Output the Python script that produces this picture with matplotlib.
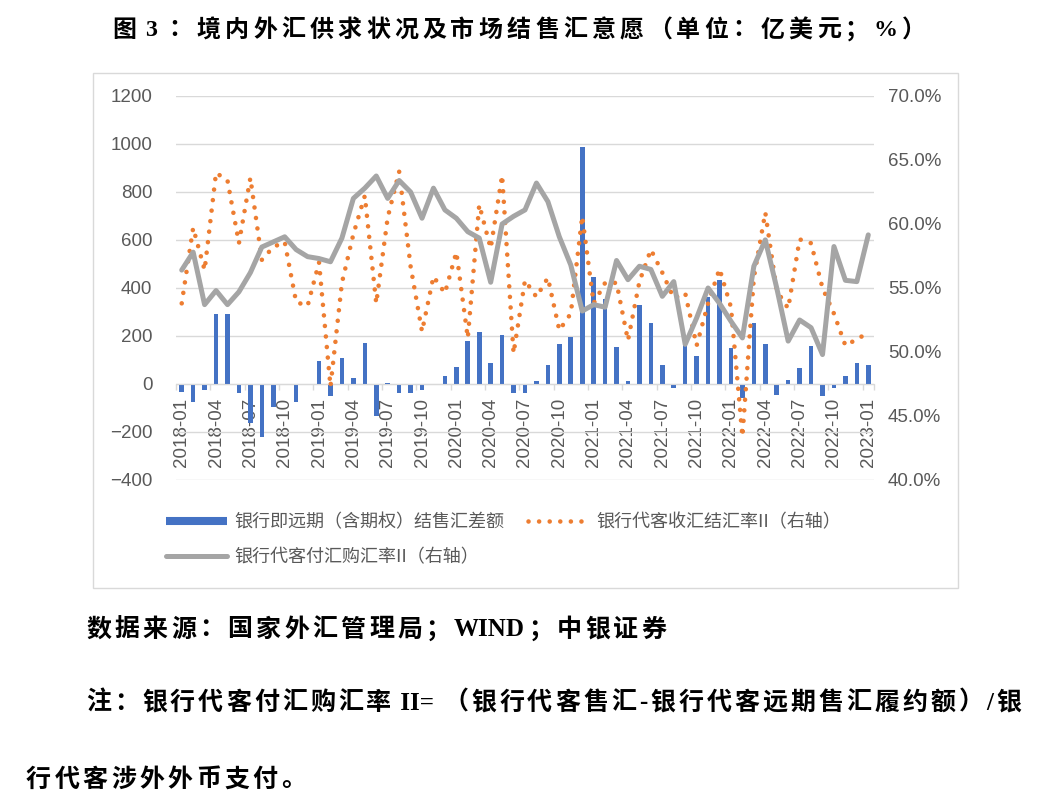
import matplotlib
matplotlib.use('Agg')
import matplotlib.pyplot as plt
import numpy as np
import pandas as pd
from matplotlib.lines import Line2D
from matplotlib.patches import Rectangle
from matplotlib.font_manager import FontProperties

# monthly categories 2018-01 .. 2023-01
months = list(pd.period_range('2018-01', '2023-01', freq='M').strftime('%Y-%m'))

# 银行即远期（含期权）结售汇差额, 亿美元
net_fx = [-32, -76, -24, 290, 290, -39, -164, -219, -94, 0, -76, 0,
          97, -50, 110, 24, 172, -133, 6, -39, -37, -25, 0, 35,
          72, 180, 215, 86, 204, -37, -39, 12, 78, 167, 197, 986,
          447, 353, 153, 12, 329, 253, 78, -18, 162, 117, 362, 433,
          149, -60, 253, 167, -46, 17, 65, 160, -50, -15, 33, 86, 79]

# 银行代客收汇结汇率II, %
settle_rate = [53.8, 59.7, 56.4, 64.0, 63.4, 58.5, 63.6, 57.2, 58.2, 58.6, 53.9, 53.6,
               57.0, 47.3, 55.4, 59.2, 62.2, 53.8, 60.5, 64.1, 56.7, 51.6, 55.9, 54.6,
               57.8, 51.1, 61.5, 58.1, 63.8, 49.9, 55.6, 54.3, 55.8, 51.7, 53.0, 60.6,
               53.8, 55.4, 55.4, 50.9, 55.5, 58.0, 56.2, 54.2, 54.6, 50.5, 53.8, 56.5,
               53.5, 43.4, 55.8, 60.9, 54.8, 53.4, 58.8, 58.5, 55.0, 53.0, 50.5, 51.0, 51.5]

# 银行代客付汇购汇率II, %
purchase_rate = [56.4, 57.8, 53.7, 54.8, 53.7, 54.7, 56.2, 58.2, 58.6, 59.0, 58.0, 57.45,
                 57.3, 57.05, 58.9, 62.0, 62.8, 63.75, 62.0, 63.4, 62.5, 60.45, 62.8, 61.1,
                 60.45, 59.4, 58.9, 55.45, 60.0, 60.6, 61.1, 63.2, 61.75, 59.0, 56.8, 53.2,
                 53.7, 53.5, 57.15, 55.65, 56.7, 56.45, 54.35, 55.5, 50.6, 52.66, 55.0, 53.8,
                 52.4, 51.1, 56.7, 58.76, 55.0, 50.85, 52.5, 51.9, 49.8, 58.24, 55.6, 55.5, 59.15]

labels = ['银行即远期（含期权）结售汇差额', '银行代客付汇购汇率II（右轴）', '银行代客收汇结汇率II（右轴）']
title = '图 3：境内外汇供求状况及市场结售汇意愿（单位：亿美元；%）'
source = '数据来源：国家外汇管理局；WIND；中银证券'
note1 = '注：银行代客付汇购汇率 II=（银行代客售汇-银行代客远期售汇履约额）/银'
note2 = '行代客涉外外币支付。'

W, H = 1047, 810
fig = plt.figure(figsize=(W / 100, H / 100), dpi=100)
fig.patch.set_facecolor('white')

BLUE, ORANGE, GREY, TXT, GRID = '#4472C4', '#ED7D31', '#A5A5A5', '#595959', '#D9D9D9'
NUMFONT = 'Liberation Sans'
DOTS = (0, (0.01, 2.3))

ax = fig.add_axes([176 / W, 1 - 480 / H, (874 - 176) / W, (480 - 96) / H])
x = np.arange(len(months))
ax.bar(x, net_fx, width=0.4, color=BLUE, zorder=2)
ax.set_xlim(-0.5, len(months) - 0.5)
ax.set_ylim(-400, 1200)
ax.set_yticks(range(-400, 1201, 200))
ax.yaxis.grid(True, color=GRID, lw=1)
ax.set_axisbelow(True)
for s in ['top', 'right', 'left']:
    ax.spines[s].set_visible(False)
ax.spines['bottom'].set_position(('data', 0))
ax.spines['bottom'].set_color(GRID)
ax.set_xticks(x[::3])
ax.set_xticklabels(months[::3], rotation=90, va='top', ha='center')
ax.set_xticks(list(np.arange(-0.5, 60, 3)) + [60.5], minor=True)
ax.tick_params(axis='x', which='major', length=0, pad=10, labelsize=13.5, labelcolor=TXT)
ax.tick_params(axis='x', which='minor', length=4, color=GRID, width=1)
ax.tick_params(axis='y', length=0, pad=17, labelsize=13.5, labelcolor=TXT)
for t in ax.get_xticklabels() + ax.get_yticklabels():
    t.set_family(NUMFONT)

ax2 = ax.twinx()
ax2.set_ylim(40, 70)
ax2.set_yticks(range(40, 71, 5))
ax2.set_yticklabels([f'{v:.1f}%' for v in range(40, 71, 5)])
for s in ax2.spines.values():
    s.set_visible(False)
ax2.tick_params(axis='y', length=0, pad=10, labelsize=13.5, labelcolor=TXT)
for t in ax2.get_yticklabels():
    t.set_family(NUMFONT)
ax2.plot(x, settle_rate, color=ORANGE, lw=3.3, linestyle=DOTS,
         dash_capstyle='round', zorder=3)
ax2.plot(x, purchase_rate, color=GREY, lw=3.6, solid_joinstyle='round',
         solid_capstyle='round', zorder=4)

handles = [Line2D([], [], color=BLUE, lw=5.8, solid_capstyle='butt'),
           Line2D([], [], color=GREY, lw=3.6, solid_capstyle='round'),
           Line2D([], [], color=ORANGE, lw=3.3, linestyle=DOTS, dash_capstyle='round')]
fig.legend(handles, labels, ncol=2, loc='upper left', bbox_to_anchor=(166 / W, 1 - 513 / H),
           frameon=False, prop=FontProperties(family='Noto Sans CJK SC', size=13),
           labelcolor=TXT, handlelength=3.4, handletextpad=0.4, columnspacing=1.3,
           labelspacing=0.97, borderpad=0, borderaxespad=0)

# chart frame
fig.patches.append(Rectangle((93 / W, 1 - 588 / H), (958 - 93) / W, (588 - 73) / H,
                             transform=fig.transFigure, fill=False, ec=GRID, lw=1))

# text with Word-style letter spacing: CJK glyphs one by one, latin runs as words
renderer = fig.canvas.get_renderer()
FAM = ['Liberation Serif', 'Noto Sans CJK SC']


def spaced(x0, y0, s, size_px, gap):
    runs = []
    for ch in s:
        if ord(ch) < 0x2000 and runs and ord(runs[-1][0]) < 0x2000:
            runs[-1] += ch
        else:
            runs.append(ch)
    xp = x0
    for r in runs:
        t = fig.text(xp / W, 1 - y0 / H, r, fontsize=size_px * 0.72, family=FAM,
                     weight='bold', ha='left', va='center', color='black')
        if ord(r[0]) > 0x2000:
            w = size_px
        else:
            w = t.get_window_extent(renderer).width
            if r.startswith(' '):
                w += 0.25 * size_px
        xp += w + gap


spaced(112, 31, title, 24, 4.2)
spaced(86, 630, source, 25, 3.3)
spaced(86, 703, note1, 25, 3.0)
spaced(26, 780, note2, 25, 3.3)

fig.savefig('out.png', dpi=100)
